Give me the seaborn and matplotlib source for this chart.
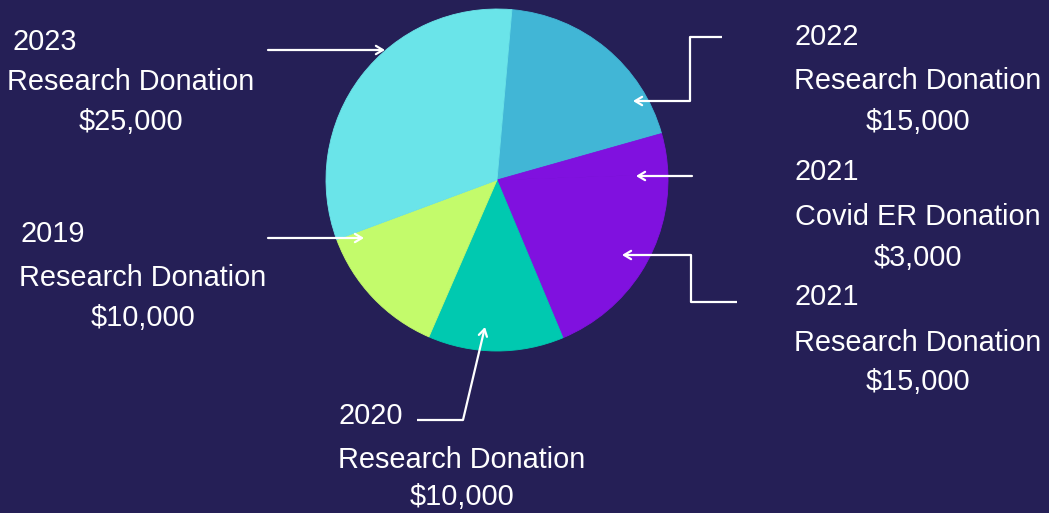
import matplotlib.pyplot as plt
import seaborn as sns

# Donation data, in the clockwise order the slices are drawn
years = ['2022', '2021', '2021', '2020', '2019', '2023']
purposes = ['Research Donation', 'Covid ER Donation', 'Research Donation',
            'Research Donation', 'Research Donation', 'Research Donation']
amounts = [15000, 3000, 15000, 10000, 10000, 25000]
slice_colors = ['#41b6d6', '#8011df', '#8011df', '#00c9b0', '#c3fb6b', '#6ae4e9']

BG = '#251f56'
W, H = 1049, 513

# label layout in pixels: year x, centre x of lines 2-3, y of the three lines
label_pos = [
    (795, 918, 37, 81, 122),
    (795, 918, 172, 217, 258),
    (795, 918, 297, 343, 382),
    (338, 462, 416, 460, 497),
    (20, 143, 234, 278, 318),
    (12, 131, 42, 82, 122),
]
# leader lines in pixels, last point gets the arrow head
leaders = [
    [(722, 37), (690, 37), (690, 101), (633, 101)],
    [(692, 176), (636, 176)],
    [(737, 302), (691, 302), (691, 255), (622, 255)],
    [(417, 420), (463, 420), (485, 327)],
    [(268, 238), (364, 238)],
    [(268, 50), (385, 50)],
]

sns.set_style('dark')
plt.rcParams['font.family'] = ['Liberation Sans', 'DejaVu Sans']

fig = plt.figure(figsize=(W / 100, H / 100), dpi=100, facecolor=BG)
ax = fig.add_axes([0, 0, 1, 1])
ax.set_facecolor(BG)

pal = sns.color_palette(slice_colors)
wedges, _ = ax.pie(amounts, colors=pal, startangle=85, counterclock=False,
                   radius=171, center=(497, H - 180),
                   wedgeprops=dict(linewidth=0.6))
# edge in the slice's own colour hides the seam between the purple slices
for w in wedges:
    w.set_edgecolor(w.get_facecolor())
ax.set_xlim(0, W)
ax.set_ylim(0, H)
ax.set_aspect('equal')
ax.axis('off')

fs = 20.8
for yr, purpose, amt, pos in zip(years, purposes, amounts, label_pos):
    x0, xc, y1, y2, y3 = pos
    ax.text(x0, H - y1, yr, color='white', fontsize=fs, ha='left', va='center')
    ax.text(xc, H - y2, purpose, color='white', fontsize=fs, ha='center', va='center')
    ax.text(xc, H - y3, f'${amt:,}', color='white', fontsize=fs, ha='center', va='center')

for path in leaders:
    pts = [(x, H - y) for x, y in path]
    if len(pts) > 2:
        ax.plot([p[0] for p in pts[:-1]], [p[1] for p in pts[:-1]],
                color='white', lw=1.6, solid_capstyle='butt')
    ax.annotate('', xy=pts[-1], xytext=pts[-2],
                arrowprops=dict(arrowstyle='->,head_length=0.5,head_width=0.3',
                                color='white', lw=1.6, shrinkA=0, shrinkB=0))

fig.savefig('out.png', dpi=100, facecolor=BG)
